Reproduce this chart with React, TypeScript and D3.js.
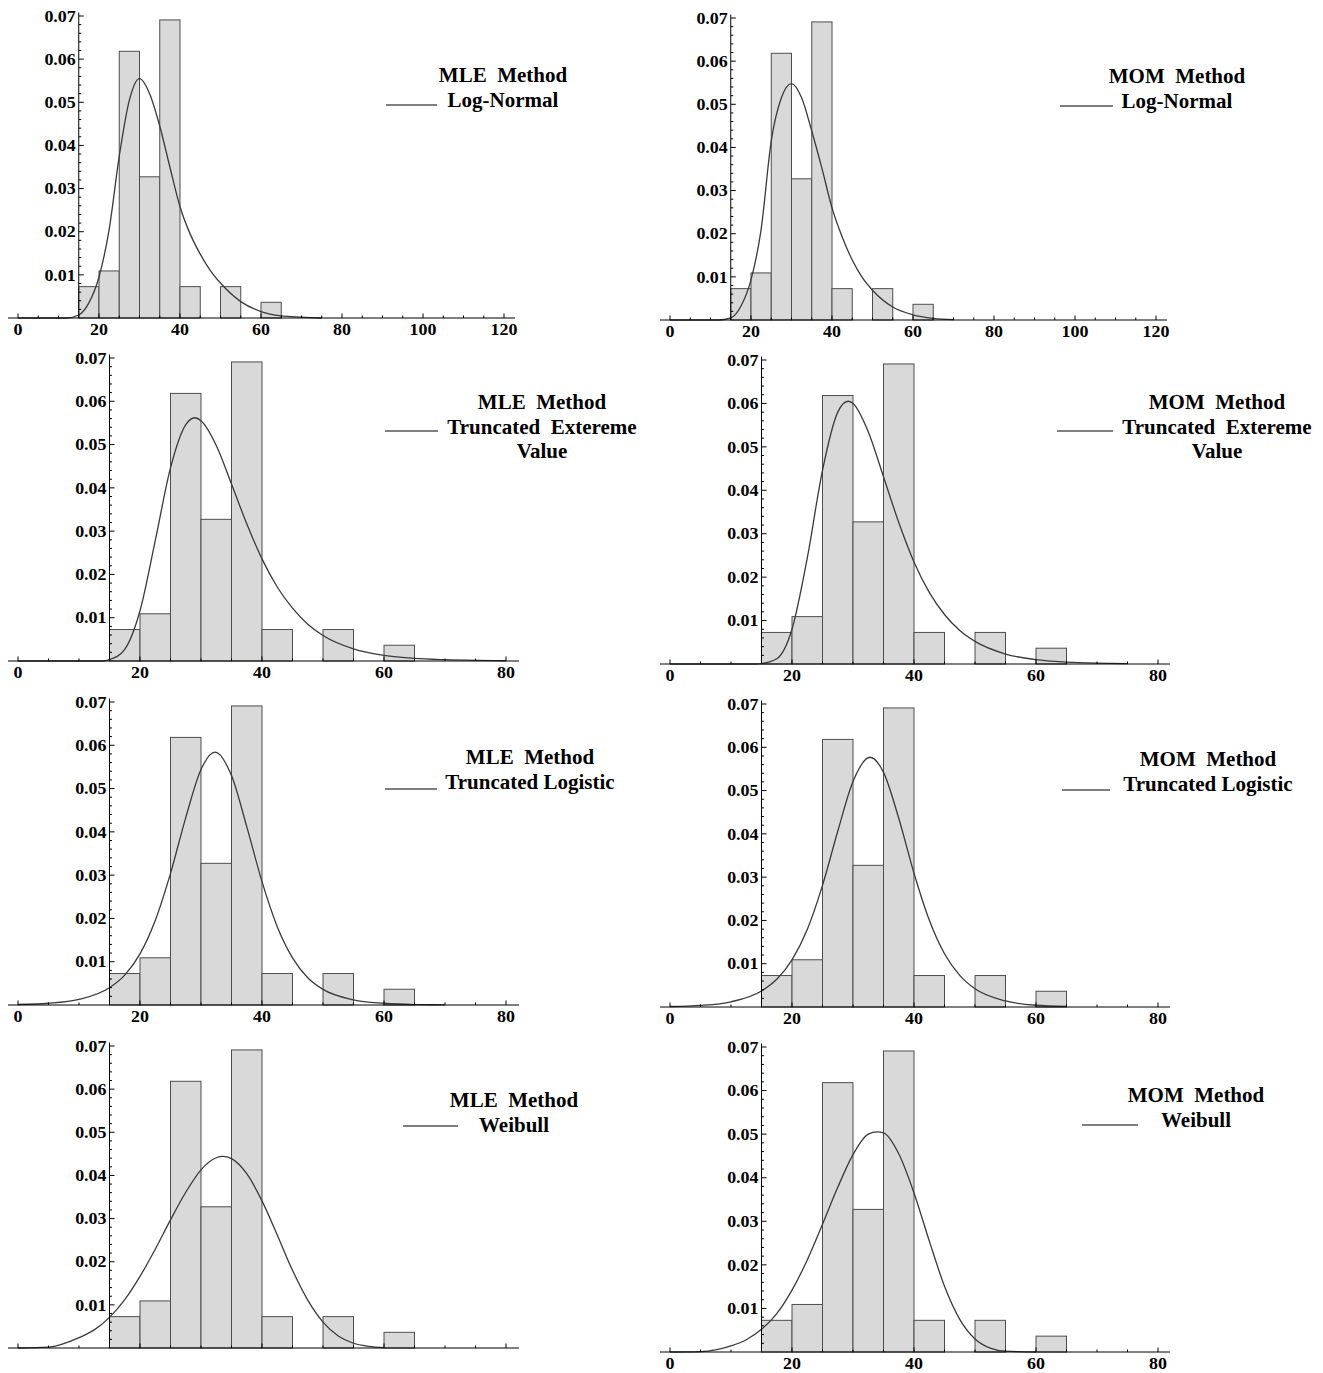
import React from 'react';
import * as d3 from 'd3';

// Histogram (shared by all panels)
const binEdges = [15, 20, 25, 30, 35, 40, 45, 50, 55, 60, 65];
const densities = [0.00727, 0.01091, 0.06182, 0.03273, 0.06909, 0.00727, 0, 0.00727, 0, 0.00364];

// Y ticks
const yMajorTicks = [0.01, 0.02, 0.03, 0.04, 0.05, 0.06, 0.07];
const yTickLabels = ['0.01', '0.02', '0.03', '0.04', '0.05', '0.06', '0.07'];

// Fitted curves
const mleLogNormalX = [0, 12, 15, 17.5, 20, 22.5, 25, 27.5, 30, 32.5, 35, 37.5, 40, 42.5, 45, 47.5, 50, 55, 60, 65, 70, 75];
const mleLogNormalY = [0, 0, 0.0007, 0.0035, 0.0095, 0.0205, 0.0375, 0.0505, 0.0555, 0.052, 0.0445, 0.035, 0.0258, 0.0195, 0.0148, 0.011, 0.0081, 0.0038, 0.0015, 0.0005, 0.0002, 0];

const momLogNormalX = [0, 12, 15, 17.5, 20, 22.5, 25, 27.5, 30, 32.5, 35, 37.5, 40, 42.5, 45, 47.5, 50, 55, 60, 65, 70];
const momLogNormalY = [0, 0, 0.0005, 0.0032, 0.0093, 0.021, 0.0415, 0.0515, 0.0548, 0.0515, 0.0438, 0.0352, 0.026, 0.0193, 0.0139, 0.0098, 0.0069, 0.003, 0.0012, 0.0004, 0.0001];

const mleTevX = [0, 14, 15, 17.5, 20, 22.5, 25, 27.5, 29, 30, 32.5, 35, 37.5, 40, 42.5, 45, 47.5, 50, 55, 60, 65, 70, 75, 80];
const mleTevY = [0, 0, 0.0003, 0.0027, 0.0116, 0.0278, 0.0446, 0.0546, 0.0562, 0.0555, 0.0498, 0.0409, 0.0317, 0.0236, 0.0171, 0.0122, 0.0085, 0.0059, 0.0028, 0.0013, 0.0006, 0.0003, 0.00014, 0.00006];

const momTevX = [0, 14, 15, 17.5, 20, 22.5, 25, 27.5, 29.2, 30, 32.5, 35, 37.5, 40, 42.5, 45, 47.5, 50, 55, 60, 65, 70, 75];
const momTevY = [0, 0, 0.0001, 0.0012, 0.008, 0.0244, 0.0446, 0.058, 0.0605, 0.06, 0.0535, 0.0431, 0.0326, 0.0235, 0.0165, 0.0114, 0.0077, 0.0052, 0.0023, 0.001, 0.00045, 0.0002, 0.0001];

const mleLogisticX = [0, 5, 10, 15, 17.5, 20, 22.5, 25, 27.5, 30, 32.3, 35, 37.5, 40, 42.5, 45, 47.5, 50, 55, 60, 65, 70];
const mleLogisticY = [0.00012, 0.0004, 0.0013, 0.004, 0.0069, 0.0118, 0.0195, 0.0304, 0.0433, 0.0544, 0.0584, 0.053, 0.0412, 0.0285, 0.0181, 0.0109, 0.0063, 0.0036, 0.0012, 0.0004, 0.0001, 0.00004];

const momLogisticX = [0, 5, 10, 15, 17.5, 20, 22.5, 25, 27.5, 30, 32.8, 35, 37.5, 40, 42.5, 45, 47.5, 50, 55, 60, 65];
const momLogisticY = [0.00012, 0.00037, 0.0012, 0.0037, 0.0064, 0.0109, 0.0179, 0.0281, 0.0406, 0.0521, 0.0577, 0.0542, 0.0436, 0.0309, 0.0201, 0.0123, 0.0073, 0.0042, 0.0014, 0.0004, 0.00014];

const mleWeibullX = [0, 5, 10, 12.5, 15, 17.5, 20, 22.5, 25, 27.5, 30, 32.5, 33.6, 35, 37.5, 40, 42.5, 45, 47.5, 50, 52.5, 55, 57.5, 60];
const mleWeibullY = [0, 0.0002, 0.0024, 0.0042, 0.0071, 0.0112, 0.0166, 0.0229, 0.0297, 0.0361, 0.0413, 0.0441, 0.0444, 0.0439, 0.0404, 0.0341, 0.0262, 0.018, 0.0111, 0.006, 0.0028, 0.0011, 0.0004, 0.0001];

const momWeibullX = [0, 5, 10, 12.5, 15, 17.5, 20, 22.5, 25, 27.5, 30, 32.5, 34, 35, 37.5, 40, 42.5, 45, 47.5, 50, 52.5, 55, 60];
const momWeibullY = [0, 0.0001, 0.0014, 0.0028, 0.0052, 0.0088, 0.0142, 0.0211, 0.0293, 0.0378, 0.0453, 0.05, 0.0505, 0.0503, 0.0455, 0.0365, 0.0255, 0.0151, 0.0075, 0.003, 0.0009, 0.0002, 0];

// Legend texts
const methods = ['MLE  Method', 'MOM  Method'];
const distNames = [['Log-Normal'], ['Truncated  Extereme', 'Value'], ['Truncated Logistic'], ['Weibull']];

type Layout = {
  ox: number; ppu: number; base: number; top: number; axL: number; axR: number;
  xMax: number; labels: boolean; lcx: number; ly: number; lineX1: number; lineX2: number; lineY: number;
};

const panels: { cx: number[]; cy: number[]; method: string; dist: string[]; L: Layout }[] = [
  { cx: mleLogNormalX, cy: mleLogNormalY, method: methods[0], dist: distNames[0],
    L: { ox: 18, ppu: 4.05, base: 318, top: 16, axL: 8, axR: 515, xMax: 120, labels: true, lcx: 503, ly: 82, lineX1: 386, lineX2: 437, lineY: 105 } },
  { cx: momLogNormalX, cy: momLogNormalY, method: methods[1], dist: distNames[0],
    L: { ox: 670, ppu: 4.05, base: 320, top: 18, axL: 660, axR: 1167, xMax: 120, labels: true, lcx: 1177, ly: 83, lineX1: 1060, lineX2: 1113, lineY: 106 } },
  { cx: mleTevX, cy: mleTevY, method: methods[0], dist: distNames[1],
    L: { ox: 18, ppu: 6.1, base: 661, top: 358, axL: 8, axR: 519, xMax: 80, labels: true, lcx: 542, ly: 409, lineX1: 385, lineX2: 438, lineY: 431 } },
  { cx: momTevX, cy: momTevY, method: methods[1], dist: distNames[1],
    L: { ox: 670, ppu: 6.1, base: 664, top: 360, axL: 660, axR: 1170, xMax: 80, labels: true, lcx: 1217, ly: 409, lineX1: 1057, lineX2: 1113, lineY: 431 } },
  { cx: mleLogisticX, cy: mleLogisticY, method: methods[0], dist: distNames[2],
    L: { ox: 18, ppu: 6.1, base: 1005, top: 702, axL: 8, axR: 519, xMax: 80, labels: true, lcx: 530, ly: 764, lineX1: 385, lineX2: 437, lineY: 789 } },
  { cx: momLogisticX, cy: momLogisticY, method: methods[1], dist: distNames[2],
    L: { ox: 670, ppu: 6.1, base: 1007, top: 704, axL: 660, axR: 1170, xMax: 80, labels: true, lcx: 1208, ly: 766, lineX1: 1062, lineX2: 1110, lineY: 790 } },
  { cx: mleWeibullX, cy: mleWeibullY, method: methods[0], dist: distNames[3],
    L: { ox: 18, ppu: 6.1, base: 1348, top: 1046, axL: 8, axR: 519, xMax: 80, labels: false, lcx: 514, ly: 1107, lineX1: 403, lineX2: 458, lineY: 1126 } },
  { cx: momWeibullX, cy: momWeibullY, method: methods[1], dist: distNames[3],
    L: { ox: 670, ppu: 6.1, base: 1352, top: 1047, axL: 660, axR: 1170, xMax: 80, labels: true, lcx: 1196, ly: 1102, lineX1: 1082, lineX2: 1138, lineY: 1125 } },
];

const FONT = "'Liberation Serif', 'Times New Roman', serif";

function Panel({ p }: { p: typeof panels[number] }) {
  const L = p.L;
  const x = d3.scaleLinear().domain([0, L.xMax]).range([L.ox, L.ox + L.xMax * L.ppu]);
  const y = d3.scaleLinear().domain([0, 0.07]).range([L.base, L.top]);
  const line = d3.line<number>()
    .x((_, i) => x(p.cx[i]))
    .y((d) => y(d))
    .curve(d3.curveMonotoneX);
  const xTicks = d3.range(0, L.xMax + 0.01, 5);
  const yTicks = d3.range(1, 36).map((i) => i * 0.002);
  const yAxisX = x(15);
  return (
    <g>
      {densities.map((d, i) =>
        d > 0 ? (
          <rect key={i} x={x(binEdges[i])} y={y(d)} width={x(binEdges[i + 1]) - x(binEdges[i])}
            height={y(0) - y(d)} fill="#d9d9d9" stroke="#4d4d4d" strokeWidth={1} />
        ) : null
      )}
      <path d={line(p.cy) || ''} fill="none" stroke="#3a3a3a" strokeWidth={1.3} />
      {/* x axis */}
      <line x1={L.axL} x2={L.axR} y1={L.base} y2={L.base} stroke="#000" strokeWidth={1} />
      {xTicks.map((t) => {
        const major = Math.abs(t % 20) < 1e-9;
        return <line key={'xt' + t} x1={x(t)} x2={x(t)} y1={L.base} y2={L.base - (major ? 4.5 : 2.5)} stroke="#000" strokeWidth={1} />;
      })}
      {L.labels && xTicks.filter((t) => t % 20 === 0).map((t) => (
        <text key={'xl' + t} transform={`translate(${x(t)},${L.base + 17}) scale(1.12,1)`} textAnchor="middle" fontFamily={FONT} fontWeight="bold" fontSize={16}>{String(t)}</text>
      ))}
      {/* y axis */}
      <line x1={yAxisX} x2={yAxisX} y1={L.base} y2={y(0.0708)} stroke="#000" strokeWidth={1} />
      {yTicks.map((v, i) => {
        const major = (i + 1) % 5 === 0;
        return <line key={'yt' + i} x1={yAxisX} x2={yAxisX + (major ? 5 : 2.5)} y1={y(v)} y2={y(v)} stroke="#000" strokeWidth={1} />;
      })}
      {yMajorTicks.map((v, i) => (
        <text key={'yl' + i} transform={`translate(${yAxisX - 3},${y(v)}) scale(1.12,1)`} dy="0.36em" textAnchor="end" fontFamily={FONT} fontWeight="bold" fontSize={16}>{yTickLabels[i]}</text>
      ))}
      {/* legend */}
      <text transform={`translate(${L.lcx},${L.ly}) scale(1.05,1)`} textAnchor="middle" fontFamily={FONT} fontWeight="bold" fontSize={20} style={{ whiteSpace: 'pre' }}>{p.method}</text>
      {p.dist.map((s, i) => (
        <text key={'d' + i} transform={`translate(${L.lcx},${L.ly + 24.5 * (i + 1)}) scale(1.05,1)`} textAnchor="middle" fontFamily={FONT} fontWeight="bold" fontSize={20} style={{ whiteSpace: 'pre' }}>{s}</text>
      ))}
      <line x1={L.lineX1} x2={L.lineX2} y1={L.lineY} y2={L.lineY} stroke="#000" strokeWidth={1.2} />
    </g>
  );
}

export default function App() {
  return (
    <svg width={1323} height={1373} style={{ position: 'absolute', left: 0, top: 0, background: '#fff' }}>
      <rect x={0} y={0} width={1323} height={1373} fill="#fff" />
      {panels.map((p, i) => <Panel key={i} p={p} />)}
    </svg>
  );
}
